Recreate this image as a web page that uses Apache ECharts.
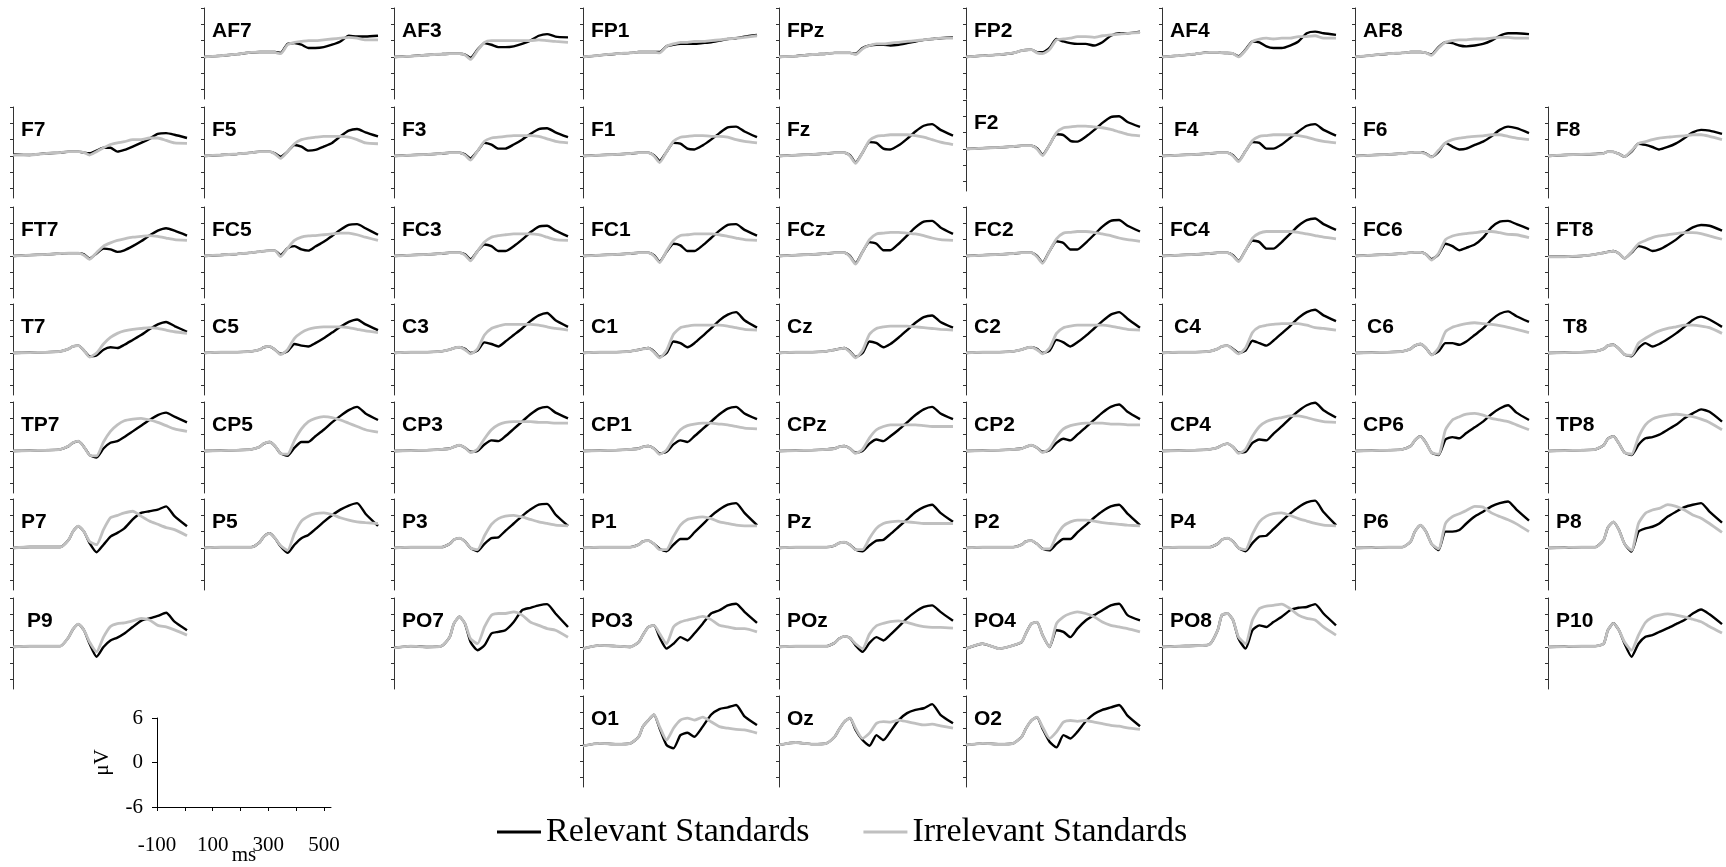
<!DOCTYPE html>
<html>
<head>
<meta charset="utf-8">
<script src="https://cdn.jsdelivr.net/npm/echarts@6/dist/echarts.min.js"></script>
<style>
html, body { margin: 0; padding: 0; background: #fff; }
#main { width: 1726px; height: 867px; }
</style>
</head>
<body>
<div id="main"></div>
<script>
// sample times (ms)
var times = [-100, -40, 20, 70, 100, 115, 135, 155, 175, 200, 225, 250, 275, 300, 330, 360, 390, 420, 450, 480, 525];

// row AF / FP
var AF7_rel = [0,0.15,0.35,0.55,0.6,0.6,0.6,0.6,0.5,1.6,1.7,1.5,1.1,1.1,1.2,1.5,1.9,2.6,2.5,2.5,2.6];
var AF7_irr = [0,0.15,0.35,0.55,0.6,0.6,0.6,0.55,0.4,1.5,1.8,1.9,2.0,2.0,2.1,2.2,2.3,2.4,2.3,2.1,2.1];
var AF3_rel = [0,0.1,0.25,0.35,0.4,0.4,0.4,0.3,-0.1,0.9,1.7,1.5,1.2,1.2,1.3,1.6,2.0,2.6,2.8,2.5,2.4];
var AF3_irr = [0,0.1,0.25,0.35,0.4,0.4,0.4,0.25,-0.3,0.8,1.8,2.0,2.0,2.0,2.0,2.0,2.0,2.1,2.0,1.9,1.8];
var FP1_rel = [0,0.2,0.4,0.5,0.6,0.6,0.6,0.6,0.6,1.3,1.5,1.6,1.6,1.6,1.7,1.8,2.0,2.2,2.3,2.5,2.7];
var FP1_irr = [0,0.2,0.4,0.5,0.6,0.6,0.6,0.6,0.5,1.3,1.6,1.8,1.8,1.9,1.9,2.0,2.1,2.2,2.3,2.4,2.6];
var FPz_rel = [0,0.1,0.3,0.4,0.5,0.5,0.5,0.5,0.4,1.1,1.4,1.5,1.5,1.4,1.5,1.7,1.9,2.1,2.2,2.3,2.4];
var FPz_irr = [0,0.1,0.3,0.4,0.5,0.5,0.5,0.5,0.3,1.0,1.4,1.6,1.6,1.7,1.8,1.9,2.0,2.1,2.2,2.3,2.3];
var FP2_rel = [0,0.16,0.29,0.49,0.78,0.85,0.9,0.6,0.57,1.1,2.2,1.9,1.7,1.6,1.6,1.4,1.8,2.6,2.9,2.9,3.1];
var FP2_irr = [0,0.16,0.29,0.49,0.78,0.85,0.9,0.5,0.4,0.9,2.1,2.2,2.3,2.5,2.5,2.4,2.6,2.7,2.8,2.9,3.0];
var AF4_rel = [0,0.16,0.37,0.57,0.57,0.5,0.49,0.41,0.08,0.9,1.9,1.8,1.3,1.1,1.1,1.4,1.9,2.9,3.1,2.9,2.7];
var AF4_irr = [0,0.16,0.37,0.57,0.57,0.5,0.49,0.41,0.0,0.8,1.9,2.2,2.3,2.2,2.3,2.3,2.5,2.5,2.6,2.3,2.3];
var AF8_rel = [0,0.2,0.4,0.5,0.6,0.6,0.6,0.5,0.3,1.2,1.8,1.7,1.4,1.3,1.4,1.6,2.0,2.6,2.9,2.9,2.8];
var AF8_irr = [0,0.2,0.4,0.5,0.6,0.6,0.6,0.5,0.2,1.1,1.8,2.0,2.1,2.1,2.2,2.2,2.3,2.4,2.4,2.3,2.3];

// row F
var F7_rel = [0.2,0.12,0.33,0.41,0.53,0.53,0.53,0.41,0.33,0.65,1.0,1.0,0.53,0.74,1.15,1.6,2.1,2.7,2.8,2.6,2.2];
var F7_irr = [0.1,0.12,0.33,0.41,0.53,0.53,0.53,0.41,0.12,0.53,1.0,1.4,1.6,1.75,2.0,2.0,2.2,2.2,1.9,1.6,1.55];
var F5_rel = [0,0.12,0.25,0.41,0.53,0.53,0.53,0.33,-0.08,0.53,1.35,1.15,0.65,0.74,1.15,1.6,2.4,3.1,3.3,2.9,2.4];
var F5_irr = [0,0.12,0.25,0.41,0.53,0.53,0.53,0.25,-0.29,0.53,1.5,2.0,2.2,2.3,2.4,2.4,2.4,2.3,2.0,1.6,1.5];
var F3_rel = [0,0.1,0.2,0.3,0.4,0.4,0.4,0.2,-0.3,0.6,1.6,1.4,0.9,0.9,1.4,2.0,2.7,3.3,3.4,2.9,2.3];
var F3_irr = [0,0.1,0.2,0.3,0.4,0.4,0.4,0.1,-0.5,0.6,1.8,2.2,2.3,2.4,2.5,2.5,2.5,2.4,2.1,1.8,1.6];
var F1_rel = [0,0.1,0.2,0.3,0.4,0.4,0.4,0.1,-0.6,0.5,1.6,1.5,0.9,0.8,1.3,2.0,2.8,3.5,3.6,3.0,2.3];
var F1_irr = [0,0.1,0.2,0.3,0.4,0.4,0.4,0.0,-0.8,0.5,1.8,2.3,2.4,2.5,2.5,2.4,2.4,2.3,2.0,1.8,1.6];
var Fz_rel = [0,0.1,0.2,0.3,0.4,0.4,0.4,0.1,-0.8,0.4,1.7,1.6,0.9,0.8,1.3,2.1,3.0,3.7,3.9,3.2,2.5];
var Fz_irr = [0,0.1,0.2,0.3,0.4,0.4,0.4,0.0,-0.9,0.4,1.9,2.4,2.5,2.6,2.6,2.6,2.5,2.3,2.0,1.7,1.4];
var F2_rel = [0,0.1,0.2,0.3,0.4,0.4,0.4,0.1,-0.7,0.5,1.8,1.7,1.0,0.9,1.5,2.3,3.2,3.9,4.0,3.3,2.7];
var F2_irr = [0,0.1,0.2,0.3,0.4,0.4,0.4,0.0,-0.8,0.5,2.0,2.6,2.7,2.8,2.8,2.7,2.6,2.4,2.1,1.8,1.6];
var F4_rel = [0,0.1,0.2,0.3,0.4,0.4,0.4,0.1,-0.6,0.6,1.7,1.6,0.9,0.9,1.4,2.2,3.0,3.7,3.9,3.2,2.5];
var F4_irr = [0,0.1,0.2,0.3,0.4,0.4,0.4,0.0,-0.7,0.6,1.9,2.4,2.5,2.6,2.6,2.6,2.5,2.3,2.0,1.8,1.6];
var F6_rel = [0,0.1,0.2,0.3,0.4,0.45,0.45,0.3,-0.1,0.5,1.6,1.15,0.8,0.9,1.35,1.75,2.4,3.2,3.6,3.4,2.8];
var F6_irr = [0,0.1,0.2,0.3,0.4,0.45,0.45,0.25,-0.15,0.7,1.6,2.0,2.2,2.3,2.4,2.45,2.6,2.6,2.4,2.2,2.0];
var F8_rel = [0,0.12,0.2,0.25,0.33,0.53,0.5,0.25,-0.08,0.53,1.5,1.35,1.1,0.8,1.1,1.55,2.2,2.9,3.2,3.1,2.7];
var F8_irr = [0,0.12,0.2,0.25,0.33,0.53,0.5,0.25,-0.08,0.65,1.55,1.75,2.0,2.2,2.3,2.4,2.45,2.6,2.6,2.4,2.0];

// row FC
var FT7_rel = [0,0.1,0.2,0.3,0.35,0.35,0.35,0.2,-0.3,0.3,0.9,0.8,0.5,0.7,1.2,1.8,2.5,3.1,3.4,3.1,2.5];
var FT7_irr = [0,0.1,0.2,0.3,0.35,0.35,0.35,0.1,-0.4,0.4,1.2,1.6,1.9,2.1,2.3,2.4,2.5,2.4,2.2,2.0,1.9];
var FC5_rel = [0,0.12,0.25,0.41,0.53,0.6,0.65,0.65,0.12,0.94,1.2,0.8,0.65,1.15,1.75,2.45,3.2,3.8,3.9,3.4,2.6];
var FC5_irr = [0,0.12,0.25,0.41,0.53,0.6,0.65,0.65,-0.08,0.94,1.9,2.3,2.45,2.5,2.6,2.7,2.8,2.8,2.6,2.3,1.9];
var FC3_rel = [0,0.1,0.2,0.3,0.4,0.4,0.4,0.2,-0.4,0.6,1.4,1.2,0.6,0.6,1.2,2.0,2.9,3.6,3.7,3.1,2.4];
var FC3_irr = [0,0.1,0.2,0.3,0.4,0.4,0.4,0.1,-0.6,0.6,1.7,2.3,2.5,2.6,2.7,2.7,2.7,2.6,2.3,2.0,1.9];
var FC1_rel = [0,0.1,0.2,0.3,0.4,0.4,0.4,0.1,-0.7,0.5,1.5,1.3,0.6,0.6,1.3,2.2,3.1,3.8,3.9,3.2,2.5];
var FC1_irr = [0,0.1,0.2,0.3,0.4,0.4,0.4,0.0,-0.8,0.6,1.9,2.5,2.6,2.7,2.7,2.7,2.6,2.4,2.2,2.0,1.9];
var FCz_rel = [0,0.1,0.2,0.3,0.4,0.4,0.4,0.0,-0.9,0.5,1.7,1.5,0.7,0.7,1.5,2.5,3.5,4.2,4.3,3.5,2.7];
var FCz_irr = [0,0.1,0.2,0.3,0.4,0.4,0.4,-0.1,-1.0,0.5,2.0,2.7,2.8,2.9,2.9,2.8,2.7,2.5,2.2,2.0,1.9];
var FC2_rel = [0,0.1,0.2,0.3,0.4,0.4,0.4,0.0,-0.8,0.6,1.8,1.6,0.8,0.8,1.6,2.6,3.6,4.3,4.4,3.7,3.0];
var FC2_irr = [0,0.1,0.2,0.3,0.4,0.4,0.4,-0.1,-0.9,0.6,2.1,2.8,2.9,3.0,3.0,2.9,2.7,2.5,2.2,2.0,1.8];
var FC4_rel = [0,0.1,0.2,0.3,0.4,0.4,0.4,0.1,-0.6,0.7,1.9,1.7,0.9,0.9,1.7,2.7,3.7,4.4,4.6,3.9,3.2];
var FC4_irr = [0,0.1,0.2,0.3,0.4,0.4,0.4,0.0,-0.7,0.7,2.2,2.8,3.0,3.0,3.0,3.0,2.9,2.7,2.5,2.3,2.1];
var FC6_rel = [0,0.1,0.2,0.3,0.4,0.45,0.45,0.2,-0.4,0.2,1.5,1.2,0.7,1.0,1.4,2.25,3.5,4.2,4.3,3.9,3.3];
var FC6_irr = [0,0.1,0.2,0.3,0.4,0.45,0.45,0.2,-0.5,0.3,2.0,2.45,2.65,2.75,2.85,3.0,3.0,2.85,2.65,2.6,2.25];
var FT8_rel = [-0.1,-0.1,0,0.2,0.4,0.5,0.6,0.3,-0.3,0.4,1.2,1.0,0.6,0.8,1.35,2.0,2.85,3.5,3.8,3.7,3.1];
var FT8_irr = [-0.1,-0.1,0,0.2,0.4,0.5,0.6,0.3,-0.3,0.5,1.5,1.9,2.25,2.45,2.6,2.75,2.85,2.85,2.75,2.45,2.05];

// row T / C
var T7_rel = [0,0.05,0.1,0.2,0.5,0.8,0.9,0.3,-0.4,-0.3,0.4,0.7,0.6,1.0,1.6,2.2,2.9,3.5,3.8,3.3,2.6];
var T7_irr = [0,0.05,0.1,0.2,0.5,0.8,0.9,0.3,-0.5,0.0,1.1,1.9,2.4,2.7,2.9,3.0,3.1,3.0,2.8,2.6,2.4];
var C5_rel = [0,0.1,0.1,0.2,0.4,0.7,0.8,0.4,-0.1,0.2,1.1,0.9,0.8,1.2,1.8,2.5,3.2,3.8,4.1,3.5,2.8];
var C5_irr = [0,0.1,0.1,0.2,0.4,0.7,0.8,0.4,-0.2,0.4,1.8,2.5,2.9,3.1,3.2,3.2,3.2,3.1,2.9,2.7,2.5];
var C3_rel = [0,0.1,0.1,0.2,0.4,0.6,0.7,0.5,0.0,0.3,1.3,1.1,0.8,1.4,2.2,3.0,3.9,4.6,4.9,4.0,3.2];
var C3_irr = [0,0.1,0.1,0.2,0.4,0.6,0.7,0.4,-0.1,0.5,2.2,3.0,3.3,3.5,3.5,3.5,3.5,3.4,3.2,3.0,2.8];
var C1_rel = [0,0.1,0.1,0.2,0.4,0.5,0.6,0.2,-0.5,0.0,1.4,1.2,0.7,1.2,2.1,3.0,4.0,4.7,5.0,4.0,3.1];
var C1_irr = [0,0.1,0.1,0.2,0.4,0.5,0.6,0.1,-0.6,0.3,2.3,3.1,3.3,3.4,3.4,3.4,3.4,3.3,3.1,2.9,2.8];
var Cz_rel = [0,0.1,0.1,0.2,0.4,0.5,0.6,0.2,-0.5,0.0,1.4,1.2,0.7,1.1,1.9,2.8,3.7,4.4,4.6,3.8,3.1];
var Cz_irr = [0,0.1,0.1,0.2,0.4,0.5,0.6,0.1,-0.6,0.3,2.3,3.0,3.2,3.3,3.3,3.3,3.2,3.1,3.0,2.9,2.8];
var C2_rel = [0,0.1,0.1,0.2,0.4,0.6,0.7,0.5,0.0,0.3,1.6,1.3,0.8,1.3,2.1,3.0,3.9,4.7,5.0,4.2,3.1];
var C2_irr = [0,0.1,0.1,0.2,0.4,0.6,0.7,0.4,-0.1,0.6,2.4,3.1,3.3,3.4,3.4,3.4,3.4,3.3,3.1,2.9,2.8];
var C4_rel = [0,0.1,0.1,0.2,0.5,0.8,0.9,0.5,0.0,0.3,1.5,1.2,0.9,1.5,2.4,3.3,4.3,5.0,5.3,4.6,3.9];
var C4_irr = [0,0.1,0.1,0.2,0.5,0.8,0.9,0.4,-0.1,0.6,2.5,3.2,3.4,3.5,3.6,3.6,3.6,3.4,3.1,3.0,2.8];
var C6_rel = [0,0.05,0.1,0.2,0.5,0.9,1.1,0.6,-0.2,0.2,1.2,1.2,1.0,1.4,2.2,3.0,4.05,4.8,5.1,4.5,3.8];
var C6_irr = [0,0.05,0.1,0.2,0.5,0.9,1.1,0.6,-0.25,0.6,2.6,3.15,3.4,3.6,3.7,3.6,3.5,3.35,3.15,2.9,2.5];
var T8_rel = [0,0.05,0.1,0.2,0.5,0.9,1.0,0.5,-0.2,-0.4,0.6,1.2,0.8,1.1,1.7,2.4,3.2,4.05,4.45,4.1,3.2];
var T8_irr = [0,0.05,0.1,0.2,0.5,0.9,1.0,0.5,-0.2,-0.3,1.2,1.8,2.3,2.7,3.0,3.2,3.4,3.4,3.3,3.1,2.4];

// row TP / CP
var TP7_rel = [0,0.05,0.1,0.2,0.6,1.0,1.2,0.5,-0.5,-0.8,0.3,1.0,1.2,1.7,2.4,3.1,3.8,4.4,4.7,4.2,3.5];
var TP7_irr = [0,0.05,0.1,0.2,0.6,1.0,1.2,0.5,-0.5,-0.6,1.1,2.4,3.2,3.7,3.9,4.0,3.8,3.5,3.1,2.7,2.4];
var CP5_rel = [0,0.05,0.1,0.2,0.5,0.9,1.1,0.6,-0.3,-0.6,0.4,1.1,1.1,1.8,2.6,3.5,4.3,5.0,5.4,4.6,3.8];
var CP5_irr = [0,0.05,0.1,0.2,0.5,0.9,1.1,0.6,-0.3,-0.4,1.3,2.7,3.6,4.0,4.2,4.1,3.8,3.4,3.0,2.6,2.3];
var CP3_rel = [0,0.05,0.1,0.2,0.3,0.5,0.7,0.4,-0.1,0.0,0.8,1.3,1.2,1.8,2.7,3.6,4.5,5.2,5.4,4.7,4.0];
var CP3_irr = [0,0.05,0.1,0.2,0.3,0.5,0.7,0.4,-0.2,0.2,1.5,2.6,3.2,3.5,3.6,3.6,3.6,3.5,3.5,3.4,3.4];
var CP1_rel = [0,0.05,0.1,0.2,0.3,0.5,0.6,0.3,-0.3,-0.1,0.8,1.3,1.1,1.8,2.7,3.6,4.5,5.2,5.4,4.6,3.9];
var CP1_irr = [0,0.05,0.1,0.2,0.3,0.5,0.6,0.3,-0.4,0.1,1.5,2.6,3.1,3.3,3.4,3.4,3.3,3.2,3.0,2.8,2.7];
var CPz_rel = [0,0.05,0.1,0.2,0.3,0.5,0.6,0.3,-0.2,0.0,0.9,1.4,1.2,1.8,2.6,3.5,4.4,5.1,5.4,4.6,3.9];
var CPz_irr = [0,0.05,0.1,0.2,0.3,0.5,0.6,0.3,-0.3,0.2,1.6,2.6,3.0,3.2,3.2,3.2,3.2,3.1,3.0,3.0,3.0];
var CP2_rel = [0,0.05,0.1,0.2,0.3,0.5,0.7,0.4,-0.1,0.1,1.0,1.5,1.3,2.0,2.9,3.8,4.7,5.4,5.7,4.8,3.9];
var CP2_irr = [0,0.05,0.1,0.2,0.3,0.5,0.7,0.4,-0.2,0.3,1.7,2.7,3.1,3.3,3.4,3.4,3.4,3.3,3.3,3.2,3.2];
var CP4_rel = [0,0.05,0.1,0.2,0.4,0.7,0.9,0.5,-0.2,-0.1,1.0,1.4,1.3,2.1,3.0,4.0,4.9,5.6,5.9,5.0,4.1];
var CP4_irr = [0,0.05,0.1,0.2,0.4,0.7,0.9,0.5,-0.3,0.2,1.8,3.0,3.6,3.9,4.1,4.3,4.3,4.1,3.8,3.6,3.5];
var CP6_rel = [0,0.05,0.1,0.2,0.6,1.3,1.8,1.0,-0.2,-0.5,1.4,1.7,1.55,2.2,2.9,3.6,4.5,5.2,5.6,4.7,3.8];
var CP6_irr = [0,0.05,0.1,0.2,0.6,1.3,1.8,1.0,-0.2,-0.4,2.6,3.8,4.2,4.5,4.6,4.4,4.0,3.8,3.6,3.2,2.6];
var TP8_rel = [0,0.05,0.1,0.2,0.7,1.5,1.8,0.9,-0.2,-0.5,0.75,1.55,1.7,2.0,2.6,3.2,4.0,4.6,5.1,4.8,3.6];
var TP8_irr = [0,0.05,0.1,0.2,0.7,1.5,1.8,0.9,-0.2,-0.4,1.7,3.2,3.9,4.2,4.4,4.5,4.4,4.2,3.9,3.5,2.6];

// row P
var P7_rel = [0,0.12,0.12,0.12,1.0,2.0,2.66,2.0,0.6,-0.53,0.4,1.4,1.85,2.4,3.5,4.3,4.5,4.7,5.1,3.9,2.66];
var P7_irr = [0,0.12,0.12,0.12,1.0,2.0,2.66,2.0,0.8,0.4,2.25,3.7,4.0,4.3,4.5,3.9,3.3,2.9,2.5,2.25,1.5];
var P5_rel = [0,0.1,0.1,0.1,0.7,1.4,1.8,1.2,0.2,-0.6,0.4,1.2,1.6,2.3,3.2,4.0,4.7,5.2,5.5,4.2,2.7];
var P5_irr = [0,0.1,0.1,0.1,0.7,1.4,1.8,1.2,0.3,-0.3,1.8,3.3,3.9,4.2,4.3,4.1,3.7,3.4,3.2,3.1,3.0];
var P3_rel = [0,0.1,0.1,0.1,0.5,1.0,1.2,0.8,0.0,-0.4,0.5,1.2,1.3,2.1,3.0,3.9,4.7,5.3,5.4,4.1,2.7];
var P3_irr = [0,0.1,0.1,0.1,0.5,1.0,1.2,0.8,0.0,-0.2,1.5,2.9,3.6,3.9,4.0,3.8,3.5,3.2,3.0,2.8,2.7];
var P1_rel = [0,0.1,0.1,0.1,0.4,0.8,0.9,0.5,-0.1,-0.4,0.4,1.1,1.1,1.9,2.9,3.9,4.7,5.3,5.5,4.3,2.8];
var P1_irr = [0,0.1,0.1,0.1,0.4,0.8,0.9,0.5,-0.2,-0.2,1.4,2.8,3.5,3.7,3.8,3.6,3.2,3.0,2.8,2.7,2.7];
var Pz_rel = [0,0.1,0.1,0.1,0.3,0.6,0.7,0.4,-0.2,-0.4,0.3,0.9,1.0,1.7,2.6,3.5,4.4,5.0,5.3,4.3,3.2];
var Pz_irr = [0,0.1,0.1,0.1,0.3,0.6,0.7,0.4,-0.2,-0.2,1.2,2.4,3.0,3.2,3.3,3.2,3.1,3.0,3.0,3.0,3.0];
var P2_rel = [0,0.1,0.1,0.1,0.4,0.8,0.9,0.5,-0.1,-0.3,0.5,1.1,1.1,1.9,2.8,3.7,4.5,5.1,5.3,4.2,2.8];
var P2_irr = [0,0.1,0.1,0.1,0.4,0.8,0.9,0.5,-0.1,-0.1,1.5,2.7,3.2,3.4,3.4,3.3,3.1,3.0,2.9,2.8,2.7];
var P4_rel = [0,0.1,0.1,0.1,0.5,1.0,1.2,0.8,0.0,-0.4,0.6,1.4,1.5,2.3,3.3,4.2,5.0,5.6,5.8,4.4,2.8];
var P4_irr = [0,0.1,0.1,0.1,0.5,1.0,1.2,0.8,0.0,-0.2,1.7,3.2,3.9,4.2,4.3,4.0,3.6,3.3,3.0,2.8,2.7];
var P6_rel = [0,0.05,0.1,0.1,0.8,2.0,2.8,2.0,0.5,-0.25,2.0,2.0,2.2,3.0,3.85,4.45,5.1,5.5,5.7,4.7,3.35];
var P6_irr = [0,0.05,0.1,0.1,0.8,2.0,2.8,2.0,0.5,-0.1,3.0,3.85,4.2,4.6,5.1,5.0,4.3,3.85,3.45,2.95,2.0];
var P8_rel = [0,0.05,0.1,0.1,1.0,2.5,3.2,2.2,0.5,-0.45,2.0,2.4,2.6,3.0,3.85,4.45,5.0,5.3,5.5,4.45,3.1];
var P8_irr = [0,0.05,0.1,0.1,1.0,2.5,3.2,2.2,0.5,-0.3,3.0,4.25,4.65,4.85,5.3,5.1,4.65,4.05,3.65,3.0,1.9];

// row P9 / PO
var P9_rel = [0,0.1,0.1,0.1,1.2,2.15,2.8,2.05,0.4,-1.2,0.0,0.8,1.15,1.65,2.45,3.2,3.5,3.8,4.2,3.1,2.05];
var P9_irr = [0,0.1,0.1,0.1,1.2,2.15,2.8,2.05,0.6,-0.6,1.2,2.5,2.85,2.95,3.2,3.5,3.3,2.65,2.45,2.1,1.45];
var PO7_rel = [-0.1,0.1,0,0.1,1.2,2.85,3.7,2.85,0.6,-0.4,0.2,1.65,1.85,2.05,3.05,4.5,4.8,5.1,5.25,4.1,2.45];
var PO7_irr = [-0.1,0.1,0,0.1,1.2,2.85,3.7,2.85,1.0,0.4,2.45,3.9,4.1,4.1,4.3,3.9,3.05,2.65,2.25,2.05,1.2];
var PO3_rel = [-0.2,0.2,0.1,0,0.6,1.45,2.45,2.65,1.2,-0.2,0.4,1.2,0.8,1.65,2.85,4.1,4.5,5.1,5.3,4.3,2.95];
var PO3_irr = [-0.2,0.2,0.1,0,0.6,1.45,2.45,2.65,1.65,0.4,2.45,3.05,3.3,3.5,3.75,3.35,2.65,2.45,2.25,2.25,1.85];
var POz_rel = [0,0.1,0.1,0.1,0.5,1.0,1.3,1.1,0.2,-0.6,0.5,1.2,0.8,1.5,2.5,3.5,4.3,4.9,5.1,4.3,3.2];
var POz_irr = [0,0.1,0.1,0.1,0.5,1.0,1.3,1.1,0.4,-0.2,1.6,2.6,2.9,3.1,3.2,3.0,2.7,2.5,2.4,2.4,2.3];
var PO4_rel = [-0.2,0.4,-0.2,0.2,0.6,1.65,2.85,3.05,1.45,0,2.05,1.85,1.2,2.25,3.25,3.9,4.5,5.1,5.3,3.9,3.25];
var PO4_irr = [-0.2,0.4,-0.2,0.2,0.6,1.65,2.85,3.05,1.45,0,2.85,3.7,4.1,4.3,4.1,3.7,3.05,2.65,2.45,2.25,1.85];
var PO8_rel = [0,0.1,0.15,0.3,2.05,3.9,4.1,3.3,1.0,-0.2,2.05,2.65,2.45,3.05,3.7,4.5,4.8,4.9,5.25,4.1,2.65];
var PO8_irr = [0,0.1,0.15,0.3,2.05,3.9,4.1,3.3,1.2,0.4,3.3,4.7,5.0,5.1,5.25,4.7,3.9,3.5,3.3,2.45,1.45];
var P10_rel = [0,0.05,0.1,0.1,0.4,2.05,2.9,2.05,0.4,-1.2,0.4,1.25,1.45,1.85,2.3,2.8,3.3,4.1,4.6,4.0,2.8];
var P10_irr = [0,0.05,0.1,0.1,0.4,2.05,2.9,2.05,0.6,-0.4,1.45,3.0,3.65,3.9,4.05,3.9,3.7,3.4,3.1,2.5,1.7];

// row O
var O1_rel = [-0.1,0.2,0.1,0.2,1.0,2.25,3.05,3.7,2.05,0,-0.4,1.2,1.5,1.0,2.25,3.7,4.4,4.6,4.9,3.5,2.45];
var O1_irr = [-0.1,0.2,0.1,0.2,1.0,2.25,3.05,3.7,2.25,0.6,2.05,3.05,3.3,3.05,3.4,2.85,2.25,2.05,1.9,1.85,1.45];
var Oz_rel = [0,0.3,0.1,0.2,1.0,1.85,2.85,3.3,1.85,0.6,-0.1,1.2,0.6,1.65,3.05,3.9,4.3,4.5,5.0,3.7,2.65];
var Oz_irr = [0,0.3,0.1,0.2,1.0,1.85,2.85,3.3,2.05,0.8,1.45,2.65,2.85,2.8,3.05,2.85,2.65,2.45,2.55,2.35,2.05];
var O2_rel = [0,0.2,0.1,0.2,1.0,2.0,3.0,3.4,2.0,0.4,-0.3,1.2,0.8,1.6,2.9,3.8,4.3,4.6,4.9,3.6,2.3];
var O2_irr = [0,0.2,0.1,0.2,1.0,2.0,3.0,3.4,2.2,0.8,1.6,2.8,3.0,2.9,3.0,2.8,2.6,2.4,2.3,2.1,1.9];

// scale panel ticks
var scaleXLabels = [-100, 100, 300, 500];

// panel table: name, row, column, relevant, irrelevant
var panels = [
    ['AF7', 0, 1, AF7_rel, AF7_irr], ['AF3', 0, 2, AF3_rel, AF3_irr], ['FP1', 0, 3, FP1_rel, FP1_irr],
    ['FPz', 0, 4, FPz_rel, FPz_irr], ['FP2', 0, 5, FP2_rel, FP2_irr], ['AF4', 0, 6, AF4_rel, AF4_irr],
    ['AF8', 0, 7, AF8_rel, AF8_irr],
    ['F7', 1, 0, F7_rel, F7_irr], ['F5', 1, 1, F5_rel, F5_irr], ['F3', 1, 2, F3_rel, F3_irr],
    ['F1', 1, 3, F1_rel, F1_irr], ['Fz', 1, 4, Fz_rel, Fz_irr], ['F2', 1, 5, F2_rel, F2_irr],
    ['F4', 1, 6, F4_rel, F4_irr], ['F6', 1, 7, F6_rel, F6_irr], ['F8', 1, 8, F8_rel, F8_irr],
    ['FT7', 2, 0, FT7_rel, FT7_irr], ['FC5', 2, 1, FC5_rel, FC5_irr], ['FC3', 2, 2, FC3_rel, FC3_irr],
    ['FC1', 2, 3, FC1_rel, FC1_irr], ['FCz', 2, 4, FCz_rel, FCz_irr], ['FC2', 2, 5, FC2_rel, FC2_irr],
    ['FC4', 2, 6, FC4_rel, FC4_irr], ['FC6', 2, 7, FC6_rel, FC6_irr], ['FT8', 2, 8, FT8_rel, FT8_irr],
    ['T7', 3, 0, T7_rel, T7_irr], ['C5', 3, 1, C5_rel, C5_irr], ['C3', 3, 2, C3_rel, C3_irr],
    ['C1', 3, 3, C1_rel, C1_irr], ['Cz', 3, 4, Cz_rel, Cz_irr], ['C2', 3, 5, C2_rel, C2_irr],
    ['C4', 3, 6, C4_rel, C4_irr], ['C6', 3, 7, C6_rel, C6_irr], ['T8', 3, 8, T8_rel, T8_irr],
    ['TP7', 4, 0, TP7_rel, TP7_irr], ['CP5', 4, 1, CP5_rel, CP5_irr], ['CP3', 4, 2, CP3_rel, CP3_irr],
    ['CP1', 4, 3, CP1_rel, CP1_irr], ['CPz', 4, 4, CPz_rel, CPz_irr], ['CP2', 4, 5, CP2_rel, CP2_irr],
    ['CP4', 4, 6, CP4_rel, CP4_irr], ['CP6', 4, 7, CP6_rel, CP6_irr], ['TP8', 4, 8, TP8_rel, TP8_irr],
    ['P7', 5, 0, P7_rel, P7_irr], ['P5', 5, 1, P5_rel, P5_irr], ['P3', 5, 2, P3_rel, P3_irr],
    ['P1', 5, 3, P1_rel, P1_irr], ['Pz', 5, 4, Pz_rel, Pz_irr], ['P2', 5, 5, P2_rel, P2_irr],
    ['P4', 5, 6, P4_rel, P4_irr], ['P6', 5, 7, P6_rel, P6_irr], ['P8', 5, 8, P8_rel, P8_irr],
    ['P9', 6, 0, P9_rel, P9_irr], ['PO7', 6, 2, PO7_rel, PO7_irr], ['PO3', 6, 3, PO3_rel, PO3_irr],
    ['POz', 6, 4, POz_rel, POz_irr], ['PO4', 6, 5, PO4_rel, PO4_irr], ['PO8', 6, 6, PO8_rel, PO8_irr],
    ['P10', 6, 8, P10_rel, P10_irr],
    ['O1', 7, 3, O1_rel, O1_irr], ['Oz', 7, 4, Oz_rel, Oz_irr], ['O2', 7, 5, O2_rel, O2_irr]
];

// layout (pixels)
var colX = [13, 204, 394, 583, 779, 966, 1162, 1355, 1548];
var rowZero = [57, 156, 256, 353, 451, 548, 647, 745];
var panelShift = { F2: -7 };
var labelShift = { P9: 6, T8: 7, F4: 4, C4: 4, C6: 4 };

var serif = "'Liberation Serif', 'Times New Roman', serif";
var sans = "'Liberation Sans', Arial, sans-serif";

drawChart();

function pairs(vals) {
    var out = [];
    for (var i = 0; i < times.length; i++) {
        if (vals[i] != null) out.push([times[i], vals[i]]);
    }
    return out;
}

function drawChart() {
    var dom = document.getElementById("main");
    var myChart = echarts.init(dom);
    var grid = [], xAxis = [], yAxis = [], series = [], title = [];

    panels.forEach(function (p, i) {
        var zero = rowZero[p[1]] + (panelShift[p[0]] || 0);
        var left = colX[p[2]];
        grid.push({ left: left, top: zero - 49, width: 174, height: 91, outerBoundsMode: 'none' });
        xAxis.push({ gridIndex: i, type: 'value', min: -100, max: 525, show: false });
        yAxis.push({
            gridIndex: i, type: 'value', min: -5.15, max: 6,
            axisLine: { show: true, onZero: false, lineStyle: { color: '#333', width: 1 } },
            axisTick: { show: true, length: 3, customValues: [-4, -2, 0, 2, 4, 6], lineStyle: { color: '#333' } },
            axisLabel: { show: false },
            splitLine: { show: false }
        });
        series.push({
            name: 'Relevant Standards', type: 'line', xAxisIndex: i, yAxisIndex: i,
            showSymbol: false, smooth: 0.2, z: 2,
            lineStyle: { color: '#000', width: 2.4 }, itemStyle: { color: '#000' },
            data: pairs(p[3])
        });
        series.push({
            name: 'Irrelevant Standards', type: 'line', xAxisIndex: i, yAxisIndex: i,
            showSymbol: false, smooth: 0.2, z: 3,
            lineStyle: { color: '#c0c0c0', width: 2.8 }, itemStyle: { color: '#c0c0c0' },
            data: pairs(p[4])
        });
        title.push({
            text: p[0], left: left + 8 + (labelShift[p[0]] || 0), top: zero - 36, padding: 0,
            textStyle: { fontFamily: sans, fontWeight: 'bold', fontSize: 21, color: '#000' }
        });
    });

    // scale panel
    var k = panels.length;
    grid.push({ left: 157, top: 718, width: 174, height: 89, outerBoundsMode: 'none', containLabel: false });
    xAxis.push({
        gridIndex: k, type: 'value', min: -100, max: 525, interval: 100,
        name: 'ms', nameLocation: 'middle', nameGap: 38, nameMoveOverlap: false,
        nameTextStyle: { fontFamily: serif, fontSize: 21, color: '#000' },
        axisLine: { show: true, onZero: false, lineStyle: { color: '#000', width: 1 } },
        axisTick: { show: true, length: 4, lineStyle: { color: '#000' } },
        axisLabel: {
            margin: 28, fontFamily: serif, fontSize: 21, color: '#000', showMaxLabel: false,
            formatter: function (v) { return scaleXLabels.indexOf(v) >= 0 ? String(v) : ''; }
        },
        splitLine: { show: false }
    });
    yAxis.push({
        gridIndex: k, type: 'value', min: -6, max: 6, interval: 6,
        name: 'μV', nameLocation: 'middle', nameGap: 44, nameMoveOverlap: false,
        nameTextStyle: { fontFamily: serif, fontSize: 21, color: '#000' },
        axisLine: { show: true, onZero: false, lineStyle: { color: '#000', width: 1 } },
        axisTick: { show: true, length: 5, lineStyle: { color: '#000' } },
        axisLabel: { margin: 14, fontFamily: serif, fontSize: 21, color: '#000' },
        splitLine: { show: false }
    });
    series.push({ type: 'line', xAxisIndex: k, yAxisIndex: k, data: [], silent: true });

    var option = {
        animation: false,
        backgroundColor: '#fff',
        title: title,
        legend: {
            left: 497, top: 815, padding: 0,
            itemWidth: 44, itemHeight: 3, itemGap: 54, icon: 'rect',
            textStyle: { fontFamily: serif, fontSize: 34, color: '#000' },
            data: ['Relevant Standards', 'Irrelevant Standards']
        },
        grid: grid,
        xAxis: xAxis,
        yAxis: yAxis,
        series: series
    };
    myChart.setOption(option, true);
}
</script>
</body>
</html>
